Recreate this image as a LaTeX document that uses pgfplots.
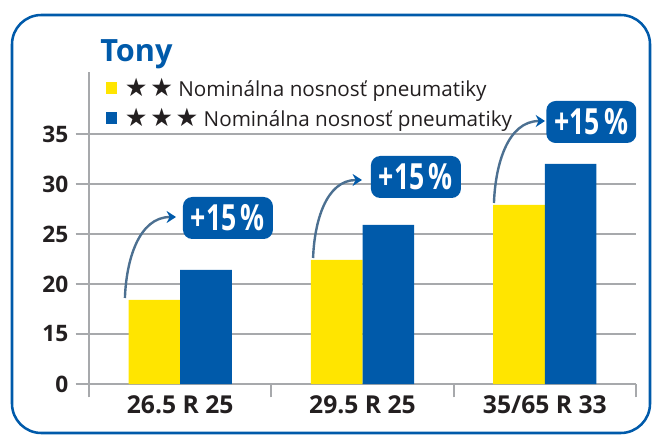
\documentclass[border=0pt]{standalone}
\usepackage{pgfplots}
\pgfplotsset{compat=1.18}
\usetikzlibrary{arrows.meta}
\usepackage{fontspec}
\setmainfont{Open Sans}
\newfontfamily\sym{DejaVu Sans}
\definecolor{ublue}{RGB}{0,90,170}
\definecolor{uyellow}{RGB}{255,229,0}
\definecolor{ugrid}{RGB}{167,169,172}
\definecolor{utext}{RGB}{35,31,32}
\newcommand{\st}{{\sym\fontsize{19}{17}\selectfont ★}}
\begin{document}
\begin{tikzpicture}[x=1pt,y=1pt]
\useasboundingbox (0,0) rectangle (489,326.25);
\draw[ublue, line width=1.9pt, rounded corners=22pt] (9,1.5) rectangle (487.5,315);
\node[anchor=base west, font=\bfseries\fontsize{23}{23}\selectfont, text=ublue, inner sep=0pt] at (75,279.75) {Tony};
\begin{axis}[
  at={(66.75pt,38.25pt)}, anchor=south west,
  scale only axis, width=410.25pt, height=234pt,
  xmin=-0.5, xmax=2.5, ymin=10, ymax=41.2,
  axis x line=bottom, axis y line=left,
  axis line style={-, ugrid, line width=1.5pt},
  xtick={-0.5,0.5,1.5,2.5}, xticklabels={},
  extra x ticks={0,1,2},
  extra x tick labels={26.5 R 25,29.5 R 25,35/65 R 33},
  extra x tick style={major tick length=0pt, tick style={draw=none},
    ticklabel style={font=\bfseries\fontsize{18.5}{18.5}\selectfont}},
  ytick={10,15,20,25,30,35}, yticklabels={0,15,20,25,30,35},
  ymajorgrids, grid style={ugrid, line width=1.5pt},
  tick style={ugrid, line width=1.5pt}, major tick length=10pt, tick align=outside,
  ticklabel style={font=\bfseries\fontsize{17}{17}\selectfont, text=utext},
  xticklabel style={yshift=-5pt},
  yticklabel style={xshift=-2pt},
  legend style={draw=none, fill=none, at={(axis description cs:0.031,0.99)}, anchor=north west,
    font=\fontsize{15.5}{17}\selectfont, text=utext, row sep=3pt, inner sep=0pt},
  legend cell align=left,
]
\addplot[ybar, fill=uyellow, draw=none, bar width=0.283, bar shift=-0.1415,
  legend image code/.code={\fill[uyellow] (0pt,-4.5pt) rectangle (8pt,4.5pt);}]
  coordinates {(0,18.4) (1,22.4) (2,27.9)};
\addlegendentry{\hspace{4pt}\st\hspace{2pt}\st\hspace{4pt}Nominálna nosnosť pneumatiky}
\addplot[ybar, fill=ublue, draw=none, bar width=0.283, bar shift=0.1415,
  legend image code/.code={\fill[ublue] (0pt,-4.5pt) rectangle (8pt,4.5pt);}]
  coordinates {(0,21.4) (1,25.9) (2,32.0)};
\addlegendentry{\hspace{4pt}\st\hspace{2pt}\st\hspace{2pt}\st\hspace{4pt}Nominálna nosnosť pneumatiky}
\draw[line width=1.8pt, gray!60!ublue, -{Stealth[length=7pt,width=9pt,color=ublue]}]
  (axis cs:-0.303,18.6) to[out=88,in=180] (axis cs:-0.023,26.7);
\draw[line width=1.8pt, gray!60!ublue, -{Stealth[length=7pt,width=9pt,color=ublue]}]
  (axis cs:0.729,22.6) to[out=88,in=180] (axis cs:0.997,30.4);
\draw[line width=1.8pt, gray!60!ublue, -{Stealth[length=7pt,width=9pt,color=ublue]}]
  (axis cs:1.721,28.1) to[out=88,in=180] (axis cs:2.001,36.3);
\node[fill=ublue, rounded corners=7pt, text=white, font=\bfseries\fontsize{27}{27}\selectfont,
  minimum width=67.5pt, minimum height=31.5pt, inner sep=0pt] at (axis cs:0.262,26.6) {\scalebox{0.74}[1]{+15\,\%}};
\node[fill=ublue, rounded corners=7pt, text=white, font=\bfseries\fontsize{27}{27}\selectfont,
  minimum width=67.5pt, minimum height=31.5pt, inner sep=0pt] at (axis cs:1.293,30.7) {\scalebox{0.74}[1]{+15\,\%}};
\node[fill=ublue, rounded corners=7pt, text=white, font=\bfseries\fontsize{27}{27}\selectfont,
  minimum width=67.5pt, minimum height=31.5pt, inner sep=0pt] at (axis cs:2.255,36.2) {\scalebox{0.74}[1]{+15\,\%}};
\end{axis}
\end{tikzpicture}
\end{document}
